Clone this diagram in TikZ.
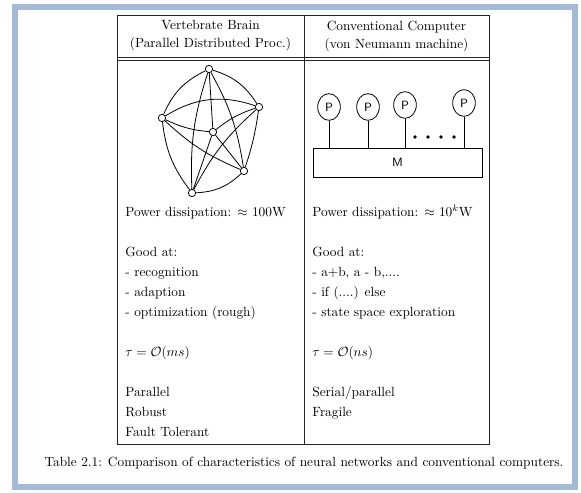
\documentclass[tikz,border=0pt]{standalone}
\usepackage{amsmath,amssymb}
\usepackage{tikz}
\usetikzlibrary{shapes.geometric,positioning}
\definecolor{cframe}{RGB}{164,186,214}
\definecolor{cink}{RGB}{35,35,35}

\begin{document}
\begin{tikzpicture}[x=0.75pt,y=0.75pt,line width=0.6pt,
  vtx/.style={draw,circle,fill=white,inner sep=0pt,minimum size=5.5pt},
  proc/.style={draw,ellipse,inner sep=0pt,minimum width=17pt,
               minimum height=20pt,font=\sffamily\small},
  col/.style={align=left,anchor=north west,inner sep=0pt,
              font=\fontsize{10}{15}\selectfont},
  hdr/.style={align=center,inner sep=0pt,font=\fontsize{10}{13.5}\selectfont}]
\useasboundingbox (0,0) rectangle (581,-492);
\draw[cframe,line width=4.5pt] (15,-7) rectangle (574.5,-486.5);
% table frame
\draw[cink] (117,-15) rectangle (489,-444);
\draw[cink] (304,-15) -- (304,-444);
\draw[cink,line width=0.5pt] (117,-57) -- (489,-57) (117,-60) -- (489,-60);
\node (hbrain) [hdr] at (210.5,-36) {Vertebrate Brain\\ (Parallel Distributed Proc.)};
\node (hcomp)  [hdr] at (396.5,-36) {Conventional Computer\\ (von Neumann machine)};
% brain graph
\node (top) [vtx] at (209,-69) {};
\node (rgt) [vtx] at (259,-107) {};
\node (lft) [vtx] at (162,-118) {};
\node (mid) [vtx] at (213,-132) {};
\node (low) [vtx] at (244,-171) {};
\node (bot) [vtx] at (192,-193) {};
\draw (top) to[bend left=20] (rgt);   \draw (rgt) to[bend left=5] (low);
\draw (low) to[bend left=20] (bot);   \draw (bot) to[bend left=15] (lft);
\draw (lft) to[bend left=20] (top);   \draw (lft) to[bend left=25] (rgt);
\draw (lft) to[bend right=10] (low);  \draw (lft) to[bend right=10] (mid);
\draw (top) to[bend right=10] (bot);  \draw (top) to[bend left=10] (low);
\draw (top) to (mid);                 \draw (rgt) to[bend right=10] (bot);
\draw (rgt) to[bend right=10] (mid);  \draw (mid) to (bot);
\draw (mid) to (low);
% von Neumann machine
\node (p1) [proc] at (329,-107) {P};
\node (p2) [proc] at (368,-107) {P};
\node (p3) [proc] at (405,-105) {P};
\node (p4) [proc] at (464,-103) {P};
\node (mem) [draw,inner sep=0pt,minimum width=126.75pt,minimum height=21.75pt,
      font=\sffamily\small] at (397.5,-162.5) {M};
\draw (p1) -- (p1 |- mem.north);   \draw (p2) -- (p2 |- mem.north);
\draw (p3) -- (p3 |- mem.north);   \draw (p4) -- (p4 |- mem.north);
\fill (415,-137) circle (1.4pt);   \fill (428,-137) circle (1.4pt);
\fill (441,-137) circle (1.4pt);   \fill (454,-137) circle (1.4pt);
% characteristics
\node (lcol) [col] at (125,-207)
      {Power dissipation: $\approx$ 100W\\[15pt]
       Good at:\\ - recognition\\ - adaption\\ - optimization (rough)\\[15pt]
       $\tau=\mathcal{O}(ms)$\\[15pt]
       Parallel\\ Robust\\ Fault Tolerant};
\node (rcol) [col] at (312,-207)
      {Power dissipation: $\approx$ 10$^{\smash{k}}$W\\[15pt]
       Good at:\\ - a+b, a - b,....\\ - if (....) else\\ - state space exploration\\[15pt]
       $\tau=\mathcal{O}(ns)$\\[15pt]
       Serial/parallel\\ Fragile};
\node (cap) [font=\fontsize{10}{12}\selectfont] at (304,-463)
      {Table 2.1: Comparison of characteristics of neural networks and conventional computers.};
\end{tikzpicture}
\end{document}
